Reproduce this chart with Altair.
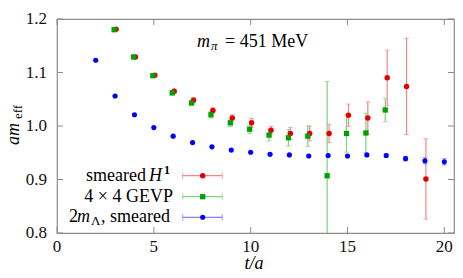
import altair as alt
import pandas as pd

# ---- data ----
t_h1 = [3, 4, 5, 6, 7, 8, 9, 10, 11, 12, 13, 14, 15, 16, 17, 18, 19]
h1 = [1.181, 1.129, 1.095, 1.065, 1.048, 1.029, 1.015, 1.006, 0.992, 0.986,
      0.986, 0.986, 1.020, 1.015, 1.090, 1.074, 0.901]
h1_err = [0.002, 0.003, 0.003, 0.004, 0.005, 0.005, 0.006, 0.008, 0.007, 0.011,
          0.014, 0.017, 0.021, 0.030, 0.052, 0.090, 0.075]

t_gevp = [3, 4, 5, 6, 7, 8, 9, 10, 11, 12, 13, 14, 15, 16, 17]
gevp = [1.180, 1.129, 1.094, 1.062, 1.043, 1.021, 1.006, 0.994, 0.983, 0.978,
        0.981, 0.907, 0.986, 0.987, 1.030]
gevp_err = [0.002, 0.002, 0.003, 0.004, 0.004, 0.006, 0.007, 0.008, 0.011, 0.015,
            0.019, 0.176, 0.035, 0.037, 0.022]

t_lam = [2, 3, 4, 5, 6, 7, 8, 9, 10, 11, 12, 13, 14, 15, 16, 17, 18, 19, 20]
lam = [1.123, 1.056, 1.021, 0.997, 0.981, 0.969, 0.961, 0.955, 0.951, 0.947,
       0.946, 0.944, 0.945, 0.944, 0.946, 0.945, 0.939, 0.935, 0.933]
lam_err = [0.001, 0.001, 0.001, 0.001, 0.001, 0.001, 0.001, 0.001, 0.001, 0.0015,
           0.0015, 0.002, 0.002, 0.002, 0.002, 0.003, 0.004, 0.006, 0.006]

series_names = ["h1", "gevp", "lam"]
series_offsets = {"gevp": -0.05, "h1": 0.05, "lam": 0.0}
marker_colors = ["#e00000", "#00a000", "#0000ff"]
bar_colors = ["#f08888", "#7fd07f", "#8080ff"]
shapes = ["circle", "square", "circle"]
sizes = [30, 26, 16]

x_ticks = [0, 5, 10, 15, 20]
x_tick_labels = ["0", "5", "10", "15", "20"]
y_ticks = [0.8, 0.9, 1.0, 1.1, 1.2]
y_tick_labels = ["0.8", "0.9", "1.0", "1.1", "1.2"]

rows = []
for name, ts, vs, es in [("h1", t_h1, h1, h1_err),
                         ("gevp", t_gevp, gevp, gevp_err),
                         ("lam", t_lam, lam, lam_err)]:
    for t, v, e in zip(ts, vs, es):
        rows.append({"series": name, "t": t + series_offsets[name], "val": v,
                     "lo": v - e, "hi": v + e})
df = pd.DataFrame(rows)

W, H = 397, 214
FONT = "Liberation Serif"
FRAME = "#8c8c8c"

xs = alt.Scale(domain=[0, 20.5], nice=False, zero=False)
ys = alt.Scale(domain=[0.8, 1.2], nice=False, zero=False)


def bar_color():
    return alt.Color("series:N", scale=alt.Scale(domain=series_names, range=bar_colors), legend=None)


def mark_enc():
    return dict(
        color=alt.Color("series:N", scale=alt.Scale(domain=series_names, range=marker_colors), legend=None),
        shape=alt.Shape("series:N", scale=alt.Scale(domain=series_names, range=shapes), legend=None),
        size=alt.Size("series:N", scale=alt.Scale(domain=series_names, range=sizes), legend=None),
    )


def X(field):
    return alt.X(field, scale=xs, axis=None)


def Y(field):
    return alt.Y(field, scale=ys, axis=None)


base = alt.Chart(df)

bars = base.mark_rule(strokeWidth=1.2, clip=True).encode(
    x=X("t:Q"), y=Y("lo:Q"), y2="hi:Q", color=bar_color())
caps_lo = base.mark_tick(orient="horizontal", size=5, thickness=1, clip=True).encode(
    x=X("t:Q"), y=Y("lo:Q"), color=bar_color())
caps_hi = base.mark_tick(orient="horizontal", size=5, thickness=1, clip=True).encode(
    x=X("t:Q"), y=Y("hi:Q"), color=bar_color())
points = base.mark_point(filled=True, opacity=1, clip=True).encode(
    x=X("t:Q"), y=Y("val:Q"), **mark_enc())

# inside ticks on all four sides, and tick labels
xt = pd.DataFrame({"v": x_ticks, "lab": x_tick_labels})
yt = pd.DataFrame({"v": y_ticks, "lab": y_tick_labels})
tick_b = alt.Chart(xt).mark_rule(color=FRAME, strokeWidth=1).encode(
    x=X("v:Q"), y=alt.value(H), y2=alt.value(H - 6))
tick_t = alt.Chart(xt).mark_rule(color=FRAME, strokeWidth=1).encode(
    x=X("v:Q"), y=alt.value(0), y2=alt.value(6))
tick_l = alt.Chart(yt).mark_rule(color=FRAME, strokeWidth=1).encode(
    y=Y("v:Q"), x=alt.value(0), x2=alt.value(6))
tick_r = alt.Chart(yt).mark_rule(color=FRAME, strokeWidth=1).encode(
    y=Y("v:Q"), x=alt.value(W), x2=alt.value(W - 6))
xlab = alt.Chart(xt).mark_text(font=FONT, fontSize=17, color="#111", align="center",
                               baseline="middle").encode(
    x=X("v:Q"), y=alt.value(H + 14), text="lab:N")
ylab = alt.Chart(yt).mark_text(font=FONT, fontSize=17, color="#111", align="right",
                               baseline="middle").encode(
    y=Y("v:Q"), x=alt.value(-10), text="lab:N")

data_layer = alt.layer(bars, caps_lo, caps_hi, points, tick_b, tick_t, tick_l, tick_r,
                       xlab, ylab).resolve_scale(
    color="independent", shape="independent", size="independent")

# legend (drawn by hand, gnuplot style)
leg_rows_y = [156.7, 177.7, 198.3]
leg_series = ["h1", "gevp", "lam"]
leg = pd.DataFrame({"series": leg_series, "py": leg_rows_y,
                    "x1": [125.7] * 3, "x2": [165.3] * 3, "xm": [145.7] * 3})
lb = alt.Chart(leg)
leg_line = lb.mark_rule(strokeWidth=1.2).encode(
    x=alt.X("x1:Q", scale=None), x2="x2:Q", y=alt.Y("py:Q", scale=None), color=bar_color())
leg_cap1 = lb.mark_tick(orient="vertical", size=7, thickness=1).encode(
    x=alt.X("x1:Q", scale=None), y=alt.Y("py:Q", scale=None), color=bar_color())
leg_cap2 = lb.mark_tick(orient="vertical", size=7, thickness=1).encode(
    x=alt.X("x2:Q", scale=None), y=alt.Y("py:Q", scale=None), color=bar_color())
leg_pt = lb.mark_point(filled=True, opacity=1).encode(
    x=alt.X("xm:Q", scale=None), y=alt.Y("py:Q", scale=None), **mark_enc())

legend_layer = alt.layer(leg_line, leg_cap1, leg_cap2, leg_pt).resolve_scale(
    color="independent", shape="independent", size="independent")


def txt(text, x, y, size=18, style="normal", weight="normal", align="left", angle=0, baseline="middle"):
    return alt.Chart(pd.DataFrame({"s": [text]})).mark_text(
        font=FONT, fontSize=size, fontStyle=style, fontWeight=weight, align=align,
        baseline=baseline, angle=angle, color="#000"
    ).encode(text="s:N", x=alt.value(x), y=alt.value(y))


texts = [
    # legend labels
    txt("smeared", 89, leg_rows_y[0], align="right"),
    txt("H", 92, leg_rows_y[0], style="italic"),
    txt("1", 107, leg_rows_y[0] - 6, size=12, weight="bold"),
    txt("4 × 4 GEVP", 116, leg_rows_y[1], align="right"),
    txt("2", 12, leg_rows_y[2]),
    txt("m", 20, leg_rows_y[2], style="italic"),
    txt("Λ", 34, leg_rows_y[2] + 4, size=13),
    txt(", smeared", 44, leg_rows_y[2]),
    # annotation
    txt("m", 140, 23, style="italic"),
    txt("π", 154, 27, size=13, style="italic"),
    txt("= 451 MeV", 168, 23),
    # axis titles
    txt("t/a", 197, 250, style="italic", align="center", baseline="alphabetic"),
    txt("am", -38, 126, style="italic", angle=270, baseline="alphabetic"),
    txt("eff", -35, 100, size=13, angle=270, baseline="alphabetic"),
]

chart = alt.layer(
    data_layer, legend_layer, *texts,
).resolve_scale(
    color="independent", shape="independent", size="independent"
).properties(
    width=W, height=H,
    autosize=alt.AutoSizeParams(type="none"),
    padding={"left": 49, "top": 11, "right": 1, "bottom": 37},
).configure(
    font=FONT, background="white"
).configure_view(
    stroke=FRAME, strokeWidth=1.2
)

chart.save("out.html", embed_options={"renderer": "svg", "actions": False})
